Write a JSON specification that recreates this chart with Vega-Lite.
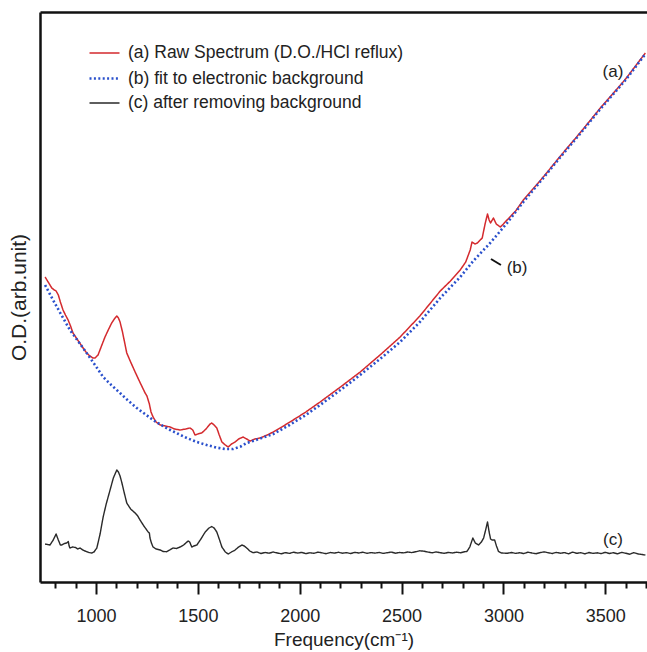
{
  "$schema": "https://vega.github.io/schema/vega-lite/v6.json",
  "autosize": {"type": "none"},
  "padding": {"left": 40, "top": 12, "right": 0, "bottom": 70},
  "width": 607,
  "height": 570,
  "background": "white",
  "config": {
    "view": {"stroke": null},
    "font": "Liberation Sans",
    "axis": {"grid": false, "domainColor": "#111", "domainWidth": 2.5, "tickColor": "#111", "tickWidth": 2, "labelFont": "Liberation Sans", "titleFont": "Liberation Sans", "labelColor": "#222", "titleColor": "#222", "titleFontWeight": "normal"}
  },
  "datasets": {
    "spec": [
      {"s":"a","f":750,"v":305},{"s":"a","f":765,"v":300},{"s":"a","f":783,"v":294},{"s":"a","f":795,"v":292},{"s":"a","f":804,"v":291},{"s":"a","f":815,"v":287},{"s":"a","f":825,"v":280},{"s":"a","f":838,"v":272},{"s":"a","f":850,"v":267},{"s":"a","f":863,"v":262},{"s":"a","f":875,"v":256},{"s":"a","f":887,"v":249},{"s":"a","f":900,"v":245},{"s":"a","f":920,"v":239},{"s":"a","f":940,"v":233},{"s":"a","f":954,"v":229},{"s":"a","f":970,"v":226},{"s":"a","f":985,"v":224},{"s":"a","f":995,"v":224},{"s":"a","f":1010,"v":227},{"s":"a","f":1025,"v":235},{"s":"a","f":1044,"v":245},{"s":"a","f":1060,"v":252},{"s":"a","f":1077,"v":259},{"s":"a","f":1090,"v":263},{"s":"a","f":1102,"v":266},{"s":"a","f":1110,"v":264},{"s":"a","f":1118,"v":260},{"s":"a","f":1130,"v":250},{"s":"a","f":1140,"v":240},{"s":"a","f":1151,"v":229},{"s":"a","f":1170,"v":220},{"s":"a","f":1192,"v":210},{"s":"a","f":1215,"v":200},{"s":"a","f":1241,"v":189},{"s":"a","f":1250,"v":186},{"s":"a","f":1256,"v":182},{"s":"a","f":1262,"v":178},{"s":"a","f":1270,"v":170},{"s":"a","f":1280,"v":165},{"s":"a","f":1295,"v":160},{"s":"a","f":1315,"v":157},{"s":"a","f":1340,"v":156},{"s":"a","f":1364,"v":155},{"s":"a","f":1385,"v":153},{"s":"a","f":1413,"v":152},{"s":"a","f":1440,"v":153},{"s":"a","f":1462,"v":154},{"s":"a","f":1475,"v":152},{"s":"a","f":1486,"v":147},{"s":"a","f":1500,"v":148},{"s":"a","f":1519,"v":149},{"s":"a","f":1540,"v":153},{"s":"a","f":1560,"v":158},{"s":"a","f":1568,"v":159},{"s":"a","f":1580,"v":157},{"s":"a","f":1593,"v":154},{"s":"a","f":1605,"v":147},{"s":"a","f":1618,"v":140},{"s":"a","f":1635,"v":137},{"s":"a","f":1649,"v":135},{"s":"a","f":1665,"v":138},{"s":"a","f":1683,"v":140},{"s":"a","f":1700,"v":143},{"s":"a","f":1722,"v":145},{"s":"a","f":1740,"v":143},{"s":"a","f":1757,"v":141},{"s":"a","f":1780,"v":143},{"s":"a","f":1806,"v":144},{"s":"a","f":1840,"v":147},{"s":"a","f":1870,"v":150},{"s":"a","f":1920,"v":156},{"s":"a","f":1968,"v":162},{"s":"a","f":2030,"v":170},{"s":"a","f":2100,"v":180},{"s":"a","f":2200,"v":195},{"s":"a","f":2297,"v":210},{"s":"a","f":2400,"v":228},{"s":"a","f":2493,"v":245},{"s":"a","f":2590,"v":266},{"s":"a","f":2690,"v":291},{"s":"a","f":2740,"v":301},{"s":"a","f":2788,"v":312},{"s":"a","f":2815,"v":320},{"s":"a","f":2837,"v":332},{"s":"a","f":2846,"v":340},{"s":"a","f":2860,"v":338},{"s":"a","f":2872,"v":339},{"s":"a","f":2896,"v":344},{"s":"a","f":2910,"v":358},{"s":"a","f":2922,"v":368},{"s":"a","f":2930,"v":362},{"s":"a","f":2937,"v":359},{"s":"a","f":2951,"v":364},{"s":"a","f":2965,"v":358},{"s":"a","f":2985,"v":355},{"s":"a","f":3000,"v":358},{"s":"a","f":3018,"v":362},{"s":"a","f":3060,"v":371},{"s":"a","f":3098,"v":382},{"s":"a","f":3200,"v":406},{"s":"a","f":3280,"v":426},{"s":"a","f":3380,"v":450},{"s":"a","f":3476,"v":474},{"s":"a","f":3600,"v":503},{"s":"a","f":3697,"v":529},
      {"s":"b","f":750,"v":297},{"s":"b","f":789,"v":282},{"s":"b","f":830,"v":267},{"s":"b","f":872,"v":252},{"s":"b","f":915,"v":240},{"s":"b","f":954,"v":229},{"s":"b","f":995,"v":217},{"s":"b","f":1035,"v":205},{"s":"b","f":1075,"v":197},{"s":"b","f":1118,"v":189},{"s":"b","f":1160,"v":181},{"s":"b","f":1200,"v":174},{"s":"b","f":1240,"v":168},{"s":"b","f":1280,"v":162},{"s":"b","f":1320,"v":157},{"s":"b","f":1364,"v":152},{"s":"b","f":1405,"v":148},{"s":"b","f":1446,"v":144},{"s":"b","f":1495,"v":140},{"s":"b","f":1544,"v":137},{"s":"b","f":1590,"v":134.5},{"s":"b","f":1634,"v":133},{"s":"b","f":1673,"v":133},{"s":"b","f":1710,"v":135.5},{"s":"b","f":1740,"v":139},{"s":"b","f":1800,"v":143},{"s":"b","f":1870,"v":148},{"s":"b","f":1950,"v":157},{"s":"b","f":2030,"v":167},{"s":"b","f":2100,"v":177},{"s":"b","f":2200,"v":192},{"s":"b","f":2297,"v":207},{"s":"b","f":2400,"v":224},{"s":"b","f":2493,"v":240},{"s":"b","f":2590,"v":260},{"s":"b","f":2690,"v":284},{"s":"b","f":2788,"v":305},{"s":"b","f":2852,"v":321},{"s":"b","f":2935,"v":339},{"s":"b","f":2985,"v":351},{"s":"b","f":3018,"v":359},{"s":"b","f":3098,"v":380},{"s":"b","f":3200,"v":405},{"s":"b","f":3280,"v":425},{"s":"b","f":3380,"v":449},{"s":"b","f":3476,"v":473},{"s":"b","f":3600,"v":502},{"s":"b","f":3697,"v":528},
      {"s":"c","f":750,"v":38},{"s":"c","f":762,"v":37.5},{"s":"c","f":774,"v":37},{"s":"c","f":790,"v":42},{"s":"c","f":804,"v":48},{"s":"c","f":815,"v":42},{"s":"c","f":825,"v":37},{"s":"c","f":832,"v":37},{"s":"c","f":845,"v":38.5},{"s":"c","f":856,"v":39},{"s":"c","f":864,"v":40.5},{"s":"c","f":868,"v":36},{"s":"c","f":872,"v":34},{"s":"c","f":885,"v":35},{"s":"c","f":900,"v":34.5},{"s":"c","f":910,"v":33},{"s":"c","f":922,"v":34},{"s":"c","f":935,"v":32},{"s":"c","f":954,"v":30.3},{"s":"c","f":965,"v":29.5},{"s":"c","f":979,"v":29},{"s":"c","f":990,"v":30},{"s":"c","f":1004,"v":34},{"s":"c","f":1020,"v":48},{"s":"c","f":1035,"v":65},{"s":"c","f":1050,"v":78},{"s":"c","f":1069,"v":92},{"s":"c","f":1085,"v":104},{"s":"c","f":1102,"v":112},{"s":"c","f":1110,"v":110},{"s":"c","f":1118,"v":106},{"s":"c","f":1126,"v":100},{"s":"c","f":1140,"v":88},{"s":"c","f":1151,"v":79},{"s":"c","f":1170,"v":73},{"s":"c","f":1192,"v":69},{"s":"c","f":1205,"v":66},{"s":"c","f":1216,"v":62},{"s":"c","f":1235,"v":56},{"s":"c","f":1256,"v":50},{"s":"c","f":1262,"v":49},{"s":"c","f":1265,"v":44},{"s":"c","f":1272,"v":39},{"s":"c","f":1280,"v":35},{"s":"c","f":1295,"v":33},{"s":"c","f":1315,"v":32},{"s":"c","f":1330,"v":30.5},{"s":"c","f":1347,"v":30.3},{"s":"c","f":1362,"v":32},{"s":"c","f":1378,"v":34},{"s":"c","f":1395,"v":33.5},{"s":"c","f":1413,"v":35},{"s":"c","f":1430,"v":37},{"s":"c","f":1452,"v":41},{"s":"c","f":1460,"v":40},{"s":"c","f":1470,"v":35},{"s":"c","f":1480,"v":36},{"s":"c","f":1495,"v":37},{"s":"c","f":1515,"v":43},{"s":"c","f":1536,"v":50},{"s":"c","f":1555,"v":54},{"s":"c","f":1568,"v":55.5},{"s":"c","f":1580,"v":54},{"s":"c","f":1593,"v":50},{"s":"c","f":1605,"v":43},{"s":"c","f":1618,"v":35},{"s":"c","f":1635,"v":30},{"s":"c","f":1649,"v":28},{"s":"c","f":1665,"v":30},{"s":"c","f":1683,"v":32},{"s":"c","f":1700,"v":35},{"s":"c","f":1716,"v":37},{"s":"c","f":1728,"v":36},{"s":"c","f":1740,"v":34},{"s":"c","f":1755,"v":31},{"s":"c","f":1771,"v":29.3},{"s":"c","f":1790,"v":30},{"s":"c","f":1810,"v":28.5},{"s":"c","f":1830,"v":29.5},{"s":"c","f":1850,"v":28.8},{"s":"c","f":1870,"v":30},{"s":"c","f":1890,"v":29},{"s":"c","f":1910,"v":28.2},{"s":"c","f":1930,"v":29.4},{"s":"c","f":1950,"v":28.6},{"s":"c","f":1970,"v":29.8},{"s":"c","f":1990,"v":28.9},{"s":"c","f":2010,"v":29.6},{"s":"c","f":2030,"v":28.4},{"s":"c","f":2050,"v":29.2},{"s":"c","f":2070,"v":28.7},{"s":"c","f":2090,"v":29.9},{"s":"c","f":2110,"v":29.1},{"s":"c","f":2130,"v":28.3},{"s":"c","f":2150,"v":29.5},{"s":"c","f":2170,"v":28.9},{"s":"c","f":2190,"v":29.7},{"s":"c","f":2210,"v":28.8},{"s":"c","f":2230,"v":29.3},{"s":"c","f":2250,"v":28.5},{"s":"c","f":2270,"v":29.6},{"s":"c","f":2290,"v":29},{"s":"c","f":2310,"v":29.8},{"s":"c","f":2330,"v":28.7},{"s":"c","f":2350,"v":29.4},{"s":"c","f":2370,"v":28.9},{"s":"c","f":2390,"v":29.6},{"s":"c","f":2410,"v":28.6},{"s":"c","f":2430,"v":29.3},{"s":"c","f":2450,"v":29.9},{"s":"c","f":2470,"v":28.8},{"s":"c","f":2490,"v":29.5},{"s":"c","f":2510,"v":29.1},{"s":"c","f":2530,"v":30},{"s":"c","f":2550,"v":29.4},{"s":"c","f":2570,"v":30.3},{"s":"c","f":2590,"v":31.2},{"s":"c","f":2610,"v":30.8},{"s":"c","f":2630,"v":29.9},{"s":"c","f":2650,"v":29.2},{"s":"c","f":2670,"v":30.1},{"s":"c","f":2690,"v":29.3},{"s":"c","f":2710,"v":28.7},{"s":"c","f":2730,"v":29.6},{"s":"c","f":2750,"v":29},{"s":"c","f":2770,"v":29.8},{"s":"c","f":2790,"v":29.2},{"s":"c","f":2810,"v":30.3},{"s":"c","f":2821,"v":30.5},{"s":"c","f":2835,"v":35},{"s":"c","f":2850,"v":44},{"s":"c","f":2862,"v":39},{"s":"c","f":2878,"v":37},{"s":"c","f":2892,"v":40},{"s":"c","f":2903,"v":44},{"s":"c","f":2914,"v":53},{"s":"c","f":2922,"v":60},{"s":"c","f":2930,"v":50},{"s":"c","f":2937,"v":43},{"s":"c","f":2944,"v":42},{"s":"c","f":2957,"v":42},{"s":"c","f":2966,"v":36},{"s":"c","f":2976,"v":30.5},{"s":"c","f":2990,"v":29},{"s":"c","f":3018,"v":28.7},{"s":"c","f":3040,"v":29.5},{"s":"c","f":3060,"v":28.6},{"s":"c","f":3080,"v":29.3},{"s":"c","f":3100,"v":28.4},{"s":"c","f":3120,"v":29.8},{"s":"c","f":3140,"v":29},{"s":"c","f":3160,"v":28.3},{"s":"c","f":3180,"v":29.4},{"s":"c","f":3200,"v":30.1},{"s":"c","f":3220,"v":29.3},{"s":"c","f":3240,"v":28.5},{"s":"c","f":3260,"v":29.6},{"s":"c","f":3280,"v":28.8},{"s":"c","f":3300,"v":29.4},{"s":"c","f":3320,"v":28.2},{"s":"c","f":3340,"v":29.9},{"s":"c","f":3360,"v":28.7},{"s":"c","f":3380,"v":29.3},{"s":"c","f":3400,"v":28.1},{"s":"c","f":3420,"v":29.5},{"s":"c","f":3440,"v":28.6},{"s":"c","f":3460,"v":29.2},{"s":"c","f":3480,"v":28.4},{"s":"c","f":3500,"v":29.7},{"s":"c","f":3520,"v":28.5},{"s":"c","f":3540,"v":29.3},{"s":"c","f":3560,"v":28.2},{"s":"c","f":3580,"v":29.6},{"s":"c","f":3600,"v":28.8},{"s":"c","f":3620,"v":27.8},{"s":"c","f":3640,"v":29.4},{"s":"c","f":3660,"v":28.1},{"s":"c","f":3680,"v":27.5},{"s":"c","f":3697,"v":27}
    ],
    "labels": [
      {"t": "(a)", "f": 3538, "v": 510},
      {"t": "(b)", "f": 3067, "v": 314},
      {"t": "(c)", "f": 3538, "v": 42}
    ],
    "pointer": [
      {"f": 2939, "v": 323},
      {"f": 2988, "v": 317}
    ]
  },
  "resolve": {"axis": {"x": "independent"}},
  "layer": [
    {
      "data": {"name": "spec"},
      "mark": {"type": "line", "strokeJoin": "round"},
      "encoding": {
        "x": {"field": "f", "type": "quantitative", "scale": {"domain": [725, 3705], "nice": false, "zero": false},
          "axis": {"orient": "bottom", "values": [800,900,1000,1100,1200,1300,1400,1500,1600,1700,1800,1900,2000,2100,2200,2300,2400,2500,2600,2700,2800,2900,3000,3100,3200,3300,3400,3500,3600,3700],
            "format": "d", "labelExpr": "datum.value % 500 === 0 ? datum.label : ''",
            "tickSize": {"condition": {"test": "datum.value % 500 === 0", "value": 12}, "value": 6},
            "labelFontSize": 18, "labelPadding": 13, "title": "Frequency(cm⁻¹)", "titleFontSize": 19, "titlePadding": 5}},
        "y": {"field": "v", "type": "quantitative", "scale": {"domain": [0, 570], "nice": false, "zero": false},
          "axis": {"orient": "left", "ticks": false, "labels": false, "title": "O.D.(arb.unit)", "titleFontSize": 21, "titlePadding": 11}},
        "color": {"field": "s", "type": "nominal",
          "scale": {"domain": ["a", "b", "c"], "range": ["#d42a2e", "#2a50cc", "#2a2a2a"]},
          "legend": {"orient": "none", "legendX": 48, "legendY": 25, "title": null, "symbolType": "stroke", "symbolSize": 900, "symbolStrokeWidth": 1.6, "labelFontSize": 17.5, "labelColor": "#222", "labelLimit": 500, "labelOffset": 7, "rowPadding": 0, "padding": 0,
            "labelExpr": "datum.label === 'a' ? '(a) Raw Spectrum (D.O./HCl reflux)' : datum.label === 'b' ? '(b) fit to electronic background' : '(c) after removing background'"}},
        "strokeDash": {"field": "s", "type": "nominal",
          "scale": {"domain": ["a", "b", "c"], "range": [[1, 0], [2, 2.4], [1, 0]]},
          "legend": {"orient": "none", "legendX": 48, "legendY": 25, "title": null, "symbolType": "stroke", "symbolSize": 900, "symbolStrokeWidth": 1.6, "labelFontSize": 17.5, "labelColor": "#222", "labelLimit": 500, "labelOffset": 7, "rowPadding": 0, "padding": 0,
            "labelExpr": "datum.label === 'a' ? '(a) Raw Spectrum (D.O./HCl reflux)' : datum.label === 'b' ? '(b) fit to electronic background' : '(c) after removing background'"}},
        "strokeWidth": {"field": "s", "type": "nominal", "scale": {"type": "ordinal", "domain": ["a", "b", "c"], "range": [1.5, 2.6, 1.4]}, "legend": null}
      }
    },
    {
      "data": {"name": "labels"},
      "mark": {"type": "text", "fontSize": 17, "color": "#222", "font": "Liberation Sans"},
      "encoding": {
        "x": {"field": "f", "type": "quantitative", "axis": {"orient": "top", "ticks": false, "labels": false, "title": null, "domain": true}},
        "y": {"field": "v", "type": "quantitative"},
        "text": {"field": "t"}
      }
    },
    {
      "data": {"name": "pointer"},
      "mark": {"type": "line", "color": "#111", "strokeWidth": 2},
      "encoding": {
        "x": {"field": "f", "type": "quantitative", "axis": null},
        "y": {"field": "v", "type": "quantitative"}
      }
    }
  ]
}
